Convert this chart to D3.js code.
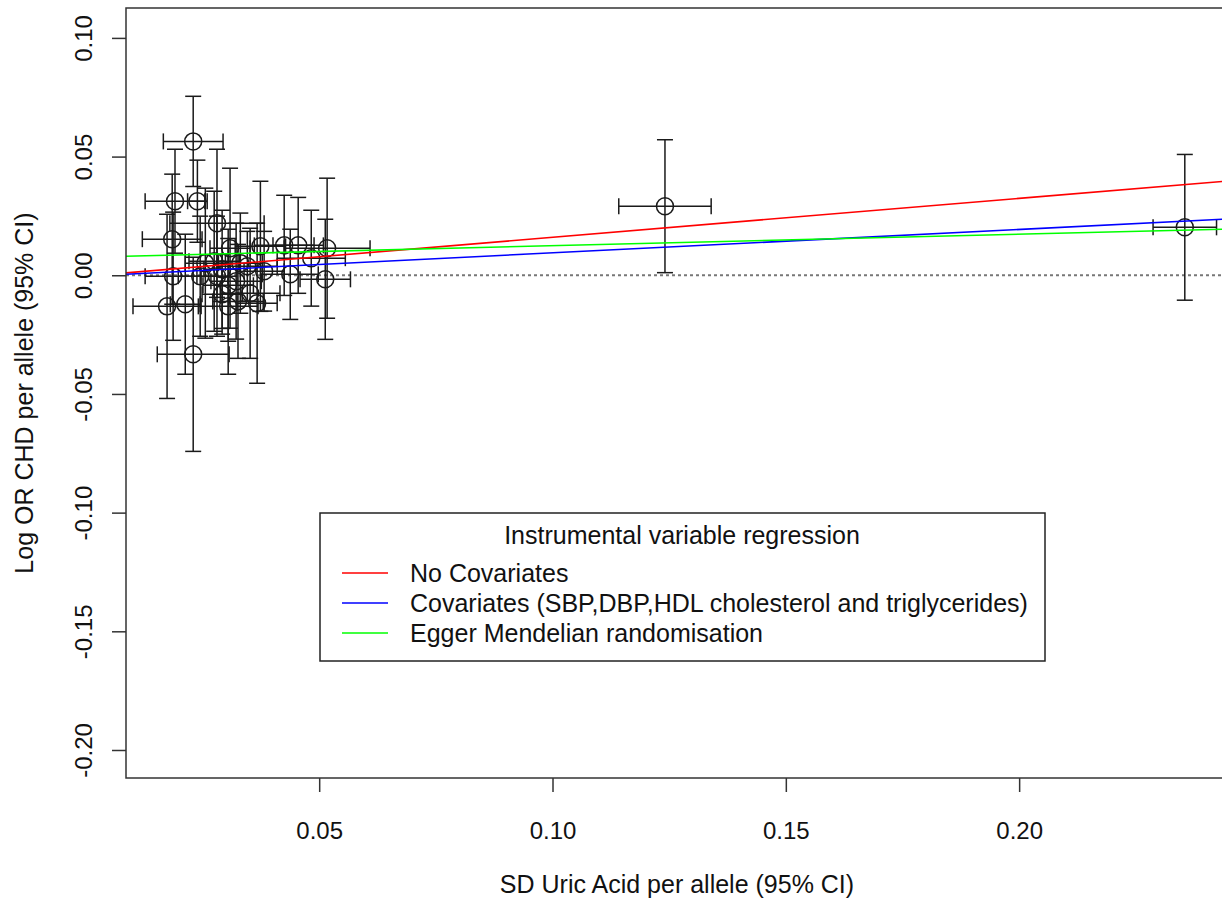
<!DOCTYPE html>
<html>
<head>
<meta charset="utf-8">
<script src="https://cdn.jsdelivr.net/npm/d3@7"></script>
<style>
  html, body { margin: 0; padding: 0; background: #fff; }
  svg { display: block; font-family: "Liberation Sans", Arial, sans-serif; }
</style>
</head>
<body>
<div id="viz"></div>
<script>
// per-variant estimates: uric acid effect (x) and log OR CHD (y), with 95% CI half widths
const snpX = [0.0230, 0.0191, 0.0239, 0.0185, 0.0281, 0.0309, 0.0374, 0.0425, 0.0455, 0.0483,
  0.0517, 0.0513, 0.0174, 0.0213, 0.0230, 0.0367, 0.0305, 0.0352, 0.0187, 0.0281,
  0.0305, 0.0292, 0.0256, 0.0275, 0.0331, 0.0346, 0.0292, 0.0245, 0.0322, 0.0382,
  0.0438, 0.0326, 0.1241, 0.2355];
const snpY = [0.0564, 0.0312, 0.0312, 0.0152, 0.0219, 0.0114, 0.0122, 0.0126, 0.0126, 0.0072,
  0.0114, -0.0017, -0.0131, -0.0122, -0.0333, -0.0118, -0.0042, -0.0076, -0.0004, -0.0004,
  -0.0131, -0.0080, 0.0051, 0.0059, 0.0051, 0.0038, 0.0025, -0.0004, -0.0025, 0.0017,
  0.0004, -0.0110, 0.0291, 0.0202];
const ciX = [0.0064, 0.0064, 0.0021, 0.0064, 0.0101, 0.0043, 0.0054, 0.0064, 0.0054, 0.0073,
  0.0092, 0.0054, 0.0073, 0.0032, 0.0077, 0.0043, 0.0054, 0.0064, 0.0060, 0.0043,
  0.0064, 0.0043, 0.0043, 0.0054, 0.0047, 0.0064, 0.0039, 0.0047, 0.0054, 0.0043,
  0.0060, 0.0054, 0.0099, 0.0068];
const ciY = [0.0190, 0.0219, 0.0173, 0.0274, 0.0312, 0.0337, 0.0274, 0.0211, 0.0202, 0.0202,
  0.0295, 0.0253, 0.0388, 0.0295, 0.0409, 0.0337, 0.0236, 0.0274, 0.0270, 0.0253,
  0.0286, 0.0168, 0.0316, 0.0295, 0.0211, 0.0147, 0.0249, 0.0253, 0.0244, 0.0168,
  0.0190, 0.0240, 0.0280, 0.0307];

// regression lines
const fitNames = ['No Covariates', 'Covariates (SBP,DBP,HDL cholesterol and triglycerides)', 'Egger Mendelian randomisation'];
const fitColors = ['#ff0000', '#0000ff', '#00ff00'];
const fitIntercepts = [-0.0004, -0.0004, 0.0076];
const fitSlopes = [0.164, 0.0985, 0.0485];

const xTicks = [0.05, 0.10, 0.15, 0.20];
const yTicks = [-0.20, -0.15, -0.10, -0.05, 0.00, 0.05, 0.10];

const width = 1222;
const height = 901;
const m = { left: 126, right: 1224, top: 8, bottom: 778 };

const fmt = d => d3.format('.2f')(d).replace('\u2212', '-');

const svg = d3.select('#viz').append('svg')
  .attr('width', width)
  .attr('height', height);

const xScale = d3.scaleLinear().domain([0.0086, 0.2439]).range([m.left, m.right]);
const yScale = d3.scaleLinear().domain([-0.2118, 0.1126]).range([m.bottom, m.top]);

svg.append('clipPath').attr('id', 'plotclip')
  .append('rect')
  .attr('x', m.left).attr('y', m.top)
  .attr('width', m.right - m.left).attr('height', m.bottom - m.top);

const points = snpX.map((x, i) => ({ x, y: snpY[i], dx: ciX[i], dy: ciY[i] }));

const plot = svg.append('g').attr('clip-path', 'url(#plotclip)');

// zero reference line
plot.append('line')
  .attr('x1', m.left).attr('x2', m.right)
  .attr('y1', yScale(0)).attr('y2', yScale(0))
  .attr('stroke', '#777')
  .attr('stroke-width', 2)
  .attr('stroke-dasharray', '3,3');

// error bars
const cap = 8;
const bars = plot.append('g')
  .attr('stroke', '#1a1a1a')
  .attr('stroke-width', 1.5)
  .attr('fill', 'none');

const eb = bars.selectAll('g.snp').data(points).enter().append('g').attr('class', 'snp');
eb.append('line')
  .attr('x1', d => xScale(d.x)).attr('x2', d => xScale(d.x))
  .attr('y1', d => yScale(d.y - d.dy)).attr('y2', d => yScale(d.y + d.dy));
eb.append('line')
  .attr('x1', d => xScale(d.x) - cap).attr('x2', d => xScale(d.x) + cap)
  .attr('y1', d => yScale(d.y + d.dy)).attr('y2', d => yScale(d.y + d.dy));
eb.append('line')
  .attr('x1', d => xScale(d.x) - cap).attr('x2', d => xScale(d.x) + cap)
  .attr('y1', d => yScale(d.y - d.dy)).attr('y2', d => yScale(d.y - d.dy));
eb.append('line')
  .attr('x1', d => xScale(d.x - d.dx)).attr('x2', d => xScale(d.x + d.dx))
  .attr('y1', d => yScale(d.y)).attr('y2', d => yScale(d.y));
eb.append('line')
  .attr('x1', d => xScale(d.x - d.dx)).attr('x2', d => xScale(d.x - d.dx))
  .attr('y1', d => yScale(d.y) - cap).attr('y2', d => yScale(d.y) + cap);
eb.append('line')
  .attr('x1', d => xScale(d.x + d.dx)).attr('x2', d => xScale(d.x + d.dx))
  .attr('y1', d => yScale(d.y) - cap).attr('y2', d => yScale(d.y) + cap);
eb.append('circle')
  .attr('cx', d => xScale(d.x))
  .attr('cy', d => yScale(d.y))
  .attr('r', 8.5);

// fitted lines
const xDom = xScale.domain();
fitNames.forEach((name, i) => {
  plot.append('line')
    .attr('x1', xScale(xDom[0])).attr('x2', xScale(xDom[1]))
    .attr('y1', yScale(fitIntercepts[i] + fitSlopes[i] * xDom[0]))
    .attr('y2', yScale(fitIntercepts[i] + fitSlopes[i] * xDom[1]))
    .attr('stroke', fitColors[i])
    .attr('stroke-width', 1.6);
});

// box
svg.append('rect')
  .attr('x', m.left).attr('y', m.top)
  .attr('width', m.right - m.left).attr('height', m.bottom - m.top)
  .attr('fill', 'none')
  .attr('stroke', '#333')
  .attr('stroke-width', 1.5);

// axes
const xAxis = svg.append('g')
  .attr('transform', `translate(0,${m.bottom})`)
  .call(d3.axisBottom(xScale).tickValues(xTicks).tickFormat(fmt).tickSize(14));
xAxis.select('.domain').remove();
xAxis.selectAll('line').attr('stroke', '#333').attr('stroke-width', 1.5);
xAxis.selectAll('text')
  .attr('y', 61).attr('dy', null)
  .attr('font-size', 24).attr('fill', '#111')
  .attr('font-family', '"Liberation Sans", Arial, sans-serif');

const yAxis = svg.append('g')
  .attr('transform', `translate(${m.left},0)`)
  .call(d3.axisLeft(yScale).tickValues(yTicks).tickFormat(fmt).tickSize(14));
yAxis.select('.domain').remove();
yAxis.selectAll('line').attr('stroke', '#333').attr('stroke-width', 1.5);
yAxis.selectAll('text')
  .attr('x', null).attr('dy', null)
  .attr('transform', 'translate(-34,0) rotate(-90)')
  .attr('text-anchor', 'middle')
  .attr('font-size', 24).attr('fill', '#111')
  .attr('font-family', '"Liberation Sans", Arial, sans-serif');

// axis titles
svg.append('text')
  .attr('x', (m.left + 1222) / 2 + 3).attr('y', 893)
  .attr('text-anchor', 'middle')
  .attr('font-size', 25).attr('fill', '#111')
  .text('SD Uric Acid per allele (95% CI)');

svg.append('text')
  .attr('transform', `translate(33,${(m.top + m.bottom) / 2}) rotate(-90)`)
  .attr('text-anchor', 'middle')
  .attr('font-size', 25).attr('fill', '#111')
  .text('Log OR CHD per allele (95% CI)');

// legend
const lg = svg.append('g');
lg.append('rect')
  .attr('x', 320).attr('y', 513).attr('width', 725).attr('height', 148)
  .attr('fill', '#fff').attr('stroke', '#222').attr('stroke-width', 1.5);
lg.append('text')
  .attr('x', 682).attr('y', 544)
  .attr('text-anchor', 'middle')
  .attr('font-size', 25).attr('fill', '#111')
  .text('Instrumental variable regression');
fitNames.forEach((name, i) => {
  const cy = 573 + i * 30;
  lg.append('line')
    .attr('x1', 342).attr('x2', 388)
    .attr('y1', cy).attr('y2', cy)
    .attr('stroke', fitColors[i]).attr('stroke-width', 1.6);
  lg.append('text')
    .attr('x', 410).attr('y', cy + 9)
    .attr('font-size', 25).attr('fill', '#111')
    .text(name);
});
</script>
</body>
</html>
